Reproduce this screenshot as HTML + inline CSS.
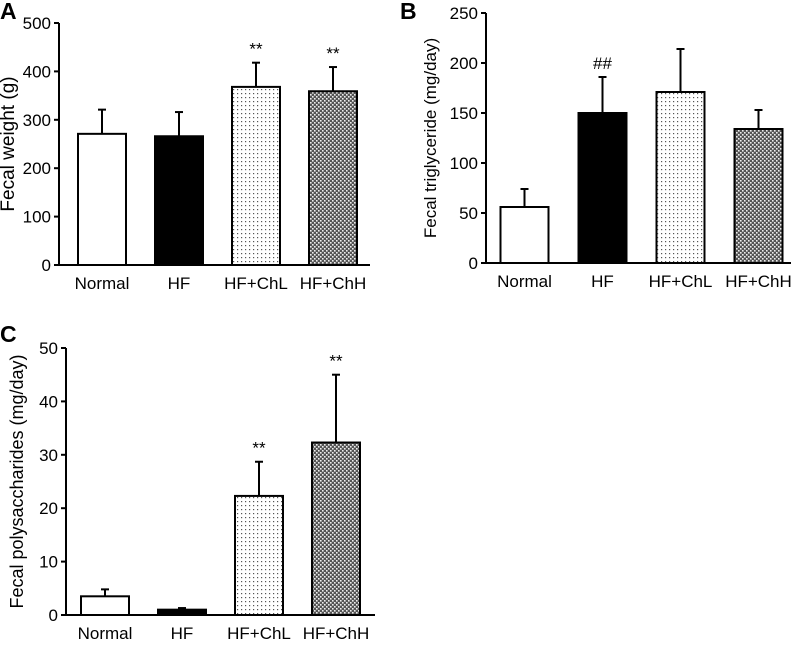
<!DOCTYPE html>
<html><head><meta charset="utf-8"><style>
body{margin:0;background:#fff;width:797px;height:641px;overflow:hidden}
svg{font-family:"Liberation Sans",Arial,sans-serif}
</style></head><body>
<svg id="fig" width="797" height="641" viewBox="0 0 797 641">
<defs>
<pattern id="dots" width="4" height="4" patternUnits="userSpaceOnUse"><rect width="4" height="4" fill="#fff"/><rect x="1" y="1" width="1.2" height="1.2" fill="#555"/></pattern>
<pattern id="cross" width="4" height="4" patternUnits="userSpaceOnUse"><rect width="4" height="4" fill="#555"/><rect x="0" y="0" width="1.6" height="1.6" fill="#eee"/><rect x="2" y="2" width="1.6" height="1.6" fill="#eee"/></pattern>
</defs>
</svg>
<script>
const categories = ["Normal","HF","HF+ChL","HF+ChH"];
const fills = ["#fff","#000","url(#dots)","url(#cross)"];
const aValues = [271,266,368,359];
const aErrors = [50,50,50,50];
const aMarks = ["","","**","**"];
const aTicks = [0,100,200,300,400,500];
const bValues = [56,150,171,134];
const bErrors = [18,36,43,19];
const bMarks = ["","##","",""];
const bTicks = [0,50,100,150,200,250];
const cValues = [3.5,1.0,22.3,32.3];
const cErrors = [1.3,0.3,6.4,12.7];
const cMarks = ["","","**","**"];
const cTicks = [0,10,20,30,40,50];

const svg = document.getElementById('fig');
const NS = "http://www.w3.org/2000/svg";
function mk(tag, attrs, parent){const e=document.createElementNS(NS,tag);for(const k in attrs)e.setAttribute(k,attrs[k]);(parent||svg).appendChild(e);return e;}

function panel(p){
  const g = mk('g',{});
  
  
  const max = p.ticks[p.ticks.length-1];
  const y = v => p.y0 - (v/max)*(p.y0-p.yTop);
  const lab = mk('text',{x:p.lx,y:p.ly,'font-size':23,'font-weight':'bold'},g);
  lab.textContent = p.id.toUpperCase();
  
  
  const ya = mk('line',{x1:p.x0,x2:p.x0,y1:p.yTop,y2:p.y0,stroke:'#000','stroke-width':2},g);
  
  
  const xa = mk('line',{x1:p.x0-1,x2:p.xEnd,y1:p.y0,y2:p.y0,stroke:'#000','stroke-width':2},g);
  
  
  p.ticks.forEach(t=>{
    mk('line',{x1:p.x0-5,x2:p.x0,y1:y(t),y2:y(t),stroke:'#000','stroke-width':2},g);
    const tx = mk('text',{x:p.x0-8,y:y(t)+6,'font-size':17,'text-anchor':'end'},g);
    tx.textContent = t;
    
    
  });
  const yt = mk('text',{x:0,y:0,'font-size':p.titleSize,'text-anchor':'middle',transform:`translate(${p.titleX},${(p.yTop+p.y0)/2}) rotate(-90)`},g);
  yt.textContent = p.title;
  
  
  const bw = 48;
  categories.forEach((c,i)=>{
    const cx = p.firstCx + i*p.step;
    const top = y(p.values[i]), etop = y(p.values[i]+p.errors[i]);
    const el = mk('line',{x1:cx,x2:cx,y1:etop,y2:top,stroke:'#000','stroke-width':2},g);
    
    
    mk('line',{x1:cx-4,x2:cx+4,y1:etop,y2:etop,stroke:'#000','stroke-width':2},g);
    const r = mk('rect',{x:cx-bw/2,y:top,width:bw,height:p.y0-top,fill:fills[i],stroke:'#000','stroke-width':2},g);
    
    
    if(p.marks[i]){
      const m = mk('text',{x:cx,y:etop-8,'font-size':17,'text-anchor':'middle'},g);
      m.textContent = p.marks[i];
      
      
    }
    const xl = mk('text',{x:cx,y:p.y0+24,'font-size':17,'text-anchor':'middle'},g);
    xl.textContent = c;
    
    
  });
}
panel({id:'a',x0:59,xEnd:370,yTop:23,y0:265,ticks:aTicks,values:aValues,errors:aErrors,marks:aMarks,firstCx:102,step:77,title:'Fecal weight (g)',titleSize:19,titleX:14,lx:0,ly:19});
panel({id:'b',x0:486,xEnd:791,yTop:13,y0:263,ticks:bTicks,values:bValues,errors:bErrors,marks:bMarks,firstCx:524.5,step:78,title:'Fecal triglyceride (mg/day)',titleSize:17,titleX:436,lx:400,ly:19});
panel({id:'c',x0:66,xEnd:375,yTop:348,y0:615,ticks:cTicks,values:cValues,errors:cErrors,marks:cMarks,firstCx:105,step:77,title:'Fecal polysaccharides (mg/day)',titleSize:18,titleX:23,lx:0,ly:342});
</script>
</body></html>
